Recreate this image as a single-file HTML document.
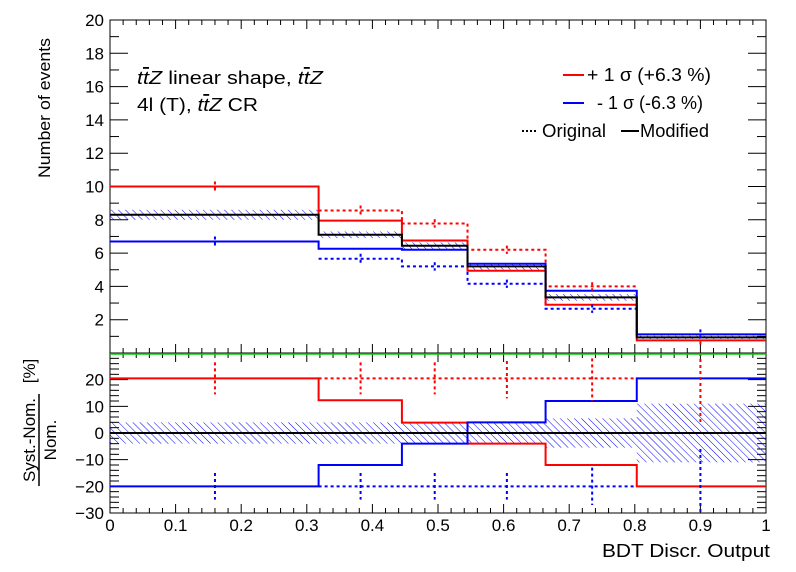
<!DOCTYPE html>
<html><head><meta charset="utf-8"><style>
body{margin:0;background:#fff}
svg{display:block;font-family:"Liberation Sans",sans-serif}
</style></head><body>
<svg id="c" width="796" height="572" viewBox="0 0 796 572" xmlns="http://www.w3.org/2000/svg">
<defs>
<pattern id="hatch" patternUnits="userSpaceOnUse" width="5" height="5" patternTransform="rotate(-45)">
<line x1="0" y1="0" x2="0" y2="5" stroke="#0000ff" stroke-width="1"/>
</pattern>
</defs>
<rect x="0" y="0" width="796" height="572" fill="#fff"/>
<g id="gax" fill="none" stroke="#000" stroke-width="1"></g>
<g id="gtop"></g><g id="gbot"></g>
<text x="50" y="108" font-size="17" transform="rotate(-90 50 108)" text-anchor="middle" textLength="140" lengthAdjust="spacingAndGlyphs">Number of events</text>
<g font-size="17">
<text x="35" y="440" transform="rotate(-90 35 440)" text-anchor="middle">Syst.-Nom.</text>
<line x1="39" y1="486" x2="39" y2="394" stroke="#000" stroke-width="1.5"/>
<text x="56" y="440" transform="rotate(-90 56 440)" text-anchor="middle">Nom.</text>
<text x="35" y="371" transform="rotate(-90 35 371)" text-anchor="middle">[%]</text>
</g>
<text x="602" y="557" font-size="18" textLength="168" lengthAdjust="spacingAndGlyphs">BDT Discr. Output</text>
<g font-size="18">
<text x="137" y="84" textLength="186" lengthAdjust="spacingAndGlyphs"><tspan font-style="italic">t</tspan><tspan font-style="italic" text-decoration="overline">t</tspan><tspan font-style="italic">Z</tspan> linear shape,  <tspan font-style="italic">t</tspan><tspan font-style="italic" text-decoration="overline">t</tspan><tspan font-style="italic">Z</tspan></text>
<text x="137" y="111" textLength="121" lengthAdjust="spacingAndGlyphs">4l (T),  <tspan font-style="italic">t</tspan><tspan font-style="italic" text-decoration="overline">t</tspan><tspan font-style="italic">Z</tspan> CR</text>
</g>
<g font-size="18">
<line x1="563" y1="75" x2="584" y2="75" stroke="#f00" stroke-width="2"/>
<text x="587" y="81" textLength="124" lengthAdjust="spacingAndGlyphs">+ 1 σ (+6.3 %)</text>
<line x1="563" y1="103" x2="584" y2="103" stroke="#00f" stroke-width="2"/>
<text x="597" y="109" textLength="106" lengthAdjust="spacingAndGlyphs">- 1 σ (-6.3 %)</text>
<line x1="522" y1="131" x2="537" y2="131" stroke="#000" stroke-width="2" stroke-dasharray="2,2"/>
<text x="542" y="137" textLength="64" lengthAdjust="spacingAndGlyphs">Original</text>
<line x1="621" y1="131" x2="639" y2="131" stroke="#000" stroke-width="2"/>
<text x="640" y="137" textLength="69" lengthAdjust="spacingAndGlyphs">Modified</text>
</g>
</svg>
<script>
const edges=[0,0.318,0.445,0.545,0.664,0.803,1];
const centers=[0.16,0.382,0.495,0.605,0.735,0.9];
const nominal=[8.3,7.1,6.44,5.2,3.34,0.94];
const nomErr=[0.3,0.2,0.2,0.2,0.2,0.1];
const upMod=[10.0,7.95,6.76,4.94,2.9,0.76];
const downMod=[6.7,6.26,6.2,5.36,3.74,1.12];
const upOrig=[10.0,8.56,7.78,6.2,4.0,0.76];
const downOrig=[6.7,5.66,5.2,4.16,2.66,1.12];
const upErr=[0.3,0.3,0.25,0.25,0.25,0.3];
const rUp=[20.5,12.3,3.9,-4,-12,-20];
const rDown=[-20,-12,-4,4,12,20.5];
const rUpOrig=[20.5,20.5,20.5,20.5,20.5,20.5];
const rDownOrig=[-20,-20,-20,-20,-20,-20];
const rUpErrLo=[14.5,14.5,14.5,13,12,3];
const rUpErrHi=[26.5,26.5,26.5,27,28,30];
const rDownErrLo=[-25,-25,-25,-25,-27,-30];
const rDownErrHi=[-15,-15,-15,-15,-13,-6];
const rBand=[4,4,4,4,5.5,11];
const topTicks=[2,4,6,8,10,12,14,16,18,20];
const botTicks=[-30,-20,-10,0,10,20];
const xTicks=[0,0.1,0.2,0.3,0.4,0.5,0.6,0.7,0.8,0.9,1];

const L=110,R=766,T1=20,B1=353,T2=353,B2=513;
const X=v=>L+v*(R-L);
const Y1=v=>B1-(v/20)*(B1-T1);
const Y2=v=>433-v*(80/30);
const NS="http://www.w3.org/2000/svg";
function mk(p,tag,at){const e=document.createElementNS(NS,tag);for(const k in at)e.setAttribute(k,at[k]);p.appendChild(e);return e;}
const gTop=document.getElementById('gtop'),gBot=document.getElementById('gbot');

function stepPath(vals,Y,from,to){let d='';for(let i=from;i<to;i++){const y=Y(vals[i]);d+=(i==from?'M':'L')+X(edges[i])+','+y+'L'+X(edges[i+1])+','+y;}return d;}
function band(g,vals,err,Y,name){for(let i=0;i<vals.length;i++){const r=mk(g,'rect',{x:X(edges[i]),y:Y(vals[i]+err[i]),width:X(edges[i+1])-X(edges[i]),height:Y(vals[i]-err[i])-Y(vals[i]+err[i]),fill:'url(#hatch)'});

}}
function line(g,d,col,dash,name){const p=mk(g,'path',{d:d,fill:'none',stroke:col,'stroke-width':2});if(dash)p.setAttribute('stroke-dasharray','3,3');

}
function vbar(g,x,y1,y2,col,name){const l=mk(g,'line',{x1:x,x2:x,y1:y1,y2:y2,stroke:col,'stroke-width':2,'stroke-dasharray':'3,3'});

}

band(gTop,nominal,nomErr,Y1,'nominal-band');
line(gTop,stepPath(upOrig,Y1,1,5),'#f00',true,'up-original');
line(gTop,stepPath(downOrig,Y1,1,5),'#00f',true,'down-original');
line(gTop,stepPath(upMod,Y1,0,6),'#f00',false,'up-modified');
line(gTop,stepPath(downMod,Y1,0,6),'#00f',false,'down-modified');
line(gTop,stepPath(nominal,Y1,0,6),'#000',false,'nominal');
for(let i=0;i<6;i++){
 vbar(gTop,X(centers[i]),Y1(upOrig[i]+upErr[i]),Y1(upOrig[i]-upErr[i]),'#f00','up-err-'+i);
 vbar(gTop,X(centers[i]),Y1(downOrig[i]+upErr[i]),Y1(downOrig[i]-upErr[i]),'#00f','down-err-'+i);
}
band(gBot,rBand.map(()=>0),rBand,Y2,'ratio-band');
line(gBot,stepPath(rUpOrig,Y2,1,5),'#f00',true,'ratio-up-original');
line(gBot,stepPath(rDownOrig,Y2,1,5),'#00f',true,'ratio-down-original');
line(gBot,stepPath(rUp,Y2,0,6),'#f00',false,'ratio-up');
line(gBot,stepPath(rDown,Y2,0,6),'#00f',false,'ratio-down');
line(gBot,'M'+L+','+Y2(0)+'L'+R+','+Y2(0),'#000',false,'ratio-zero');
for(let i=0;i<6;i++){
 vbar(gBot,X(centers[i]),Y2(rUpErrHi[i]),Y2(rUpErrLo[i]),'#f00','ratio-up-err-'+i);
 vbar(gBot,X(centers[i]),Y2(rDownErrHi[i]),Y2(rDownErrLo[i]),'#00f','ratio-down-err-'+i);
}
mk(gBot,'line',{x1:L,x2:R,y1:T2+1,y2:T2+1,stroke:'#00d000','stroke-width':1.5});

const svgEl=document.getElementById('c');
const ax=document.getElementById('gax');
mk(ax,'rect',{x:L,y:T1,width:R-L,height:B1-T1});
mk(ax,'rect',{x:L,y:T2,width:R-L,height:B2-T2});
for(let v=1;v<20;v++){const y=Y1(v),len=v%2==0?18:9;mk(ax,'line',{x1:L,x2:L+len,y1:y,y2:y});mk(ax,'line',{x1:R,x2:R-len,y1:y,y2:y});}
for(let v=-28;v<30;v+=2){const y=Y2(v),len=v%10==0?18:9;mk(ax,'line',{x1:L,x2:L+len,y1:y,y2:y});mk(ax,'line',{x1:R,x2:R-len,y1:y,y2:y});}
for(let k=1;k<50;k++){const x=X(k/50),maj=k%5==0;
 mk(ax,'line',{x1:x,x2:x,y1:B2,y2:B2-(maj?9:5)});mk(ax,'line',{x1:x,x2:x,y1:T2,y2:T2+(maj?9:5)});
 mk(ax,'line',{x1:x,x2:x,y1:B1,y2:B1-(maj?9:5)});mk(ax,'line',{x1:x,x2:x,y1:T1,y2:T1+(maj?9:5)});}
topTicks.forEach(v=>{const t=mk(svgEl,'text',{x:L-6,y:Y1(v)+6,'font-size':17,'text-anchor':'end'});t.textContent=v;

});
botTicks.forEach(v=>{const t=mk(svgEl,'text',{x:L-6,y:Y2(v)+6,'font-size':17,'text-anchor':'end'});t.textContent=v<0?'\u2212'+(-v):v;

});
xTicks.forEach(v=>{const t=mk(svgEl,'text',{x:X(v),y:B2+18,'font-size':17,'text-anchor':'middle'});t.textContent=v;

});
</script>
</body></html>
